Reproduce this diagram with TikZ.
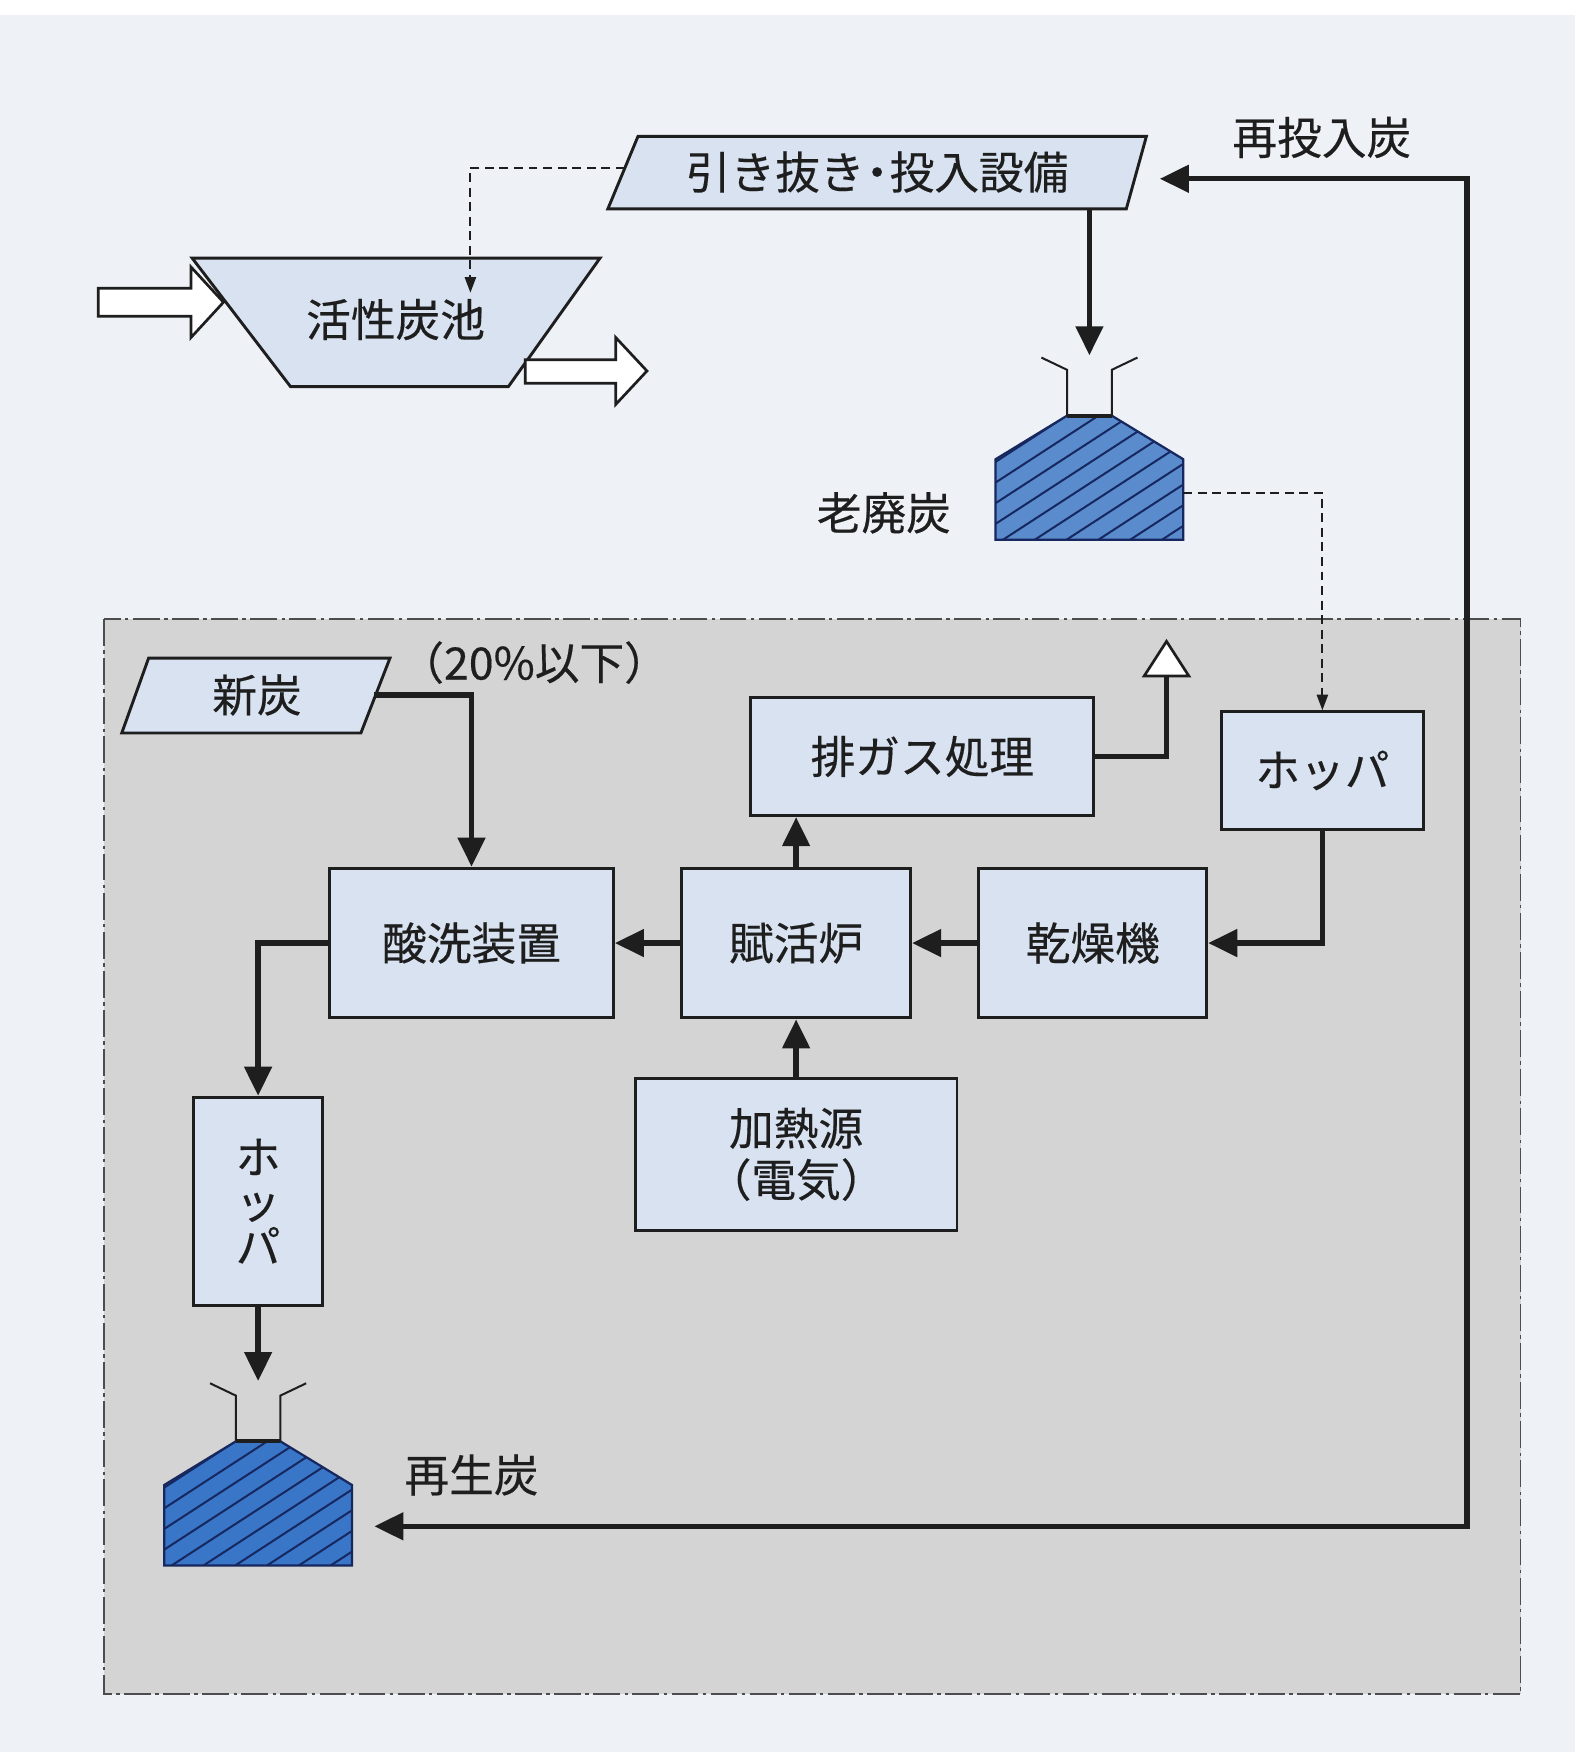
\documentclass[tikz,border=0pt]{standalone}
\usepackage{fontspec}
\setmainfont{Noto Sans CJK JP}[FakeBold=0.35]
\usetikzlibrary{arrows.meta}
\definecolor{bgc}{RGB}{238,241,245}
\definecolor{panelc}{RGB}{212,212,212}
\definecolor{boxc}{RGB}{216,226,240}
\definecolor{pilec}{RGB}{90,140,205}
\definecolor{hatchc}{RGB}{22,40,95}
\definecolor{ink}{RGB}{30,30,30}
\tikzset{
  lbl/.style={font=\fontsize{20pt}{24pt}\selectfont, text=ink, inner sep=0pt},
  box/.style={draw=ink, fill=boxc, line width=1.3pt, inner sep=0pt, align=center, text=ink, font=\fontsize{20pt}{24pt}\selectfont},
  shapebox/.style={draw=ink, fill=boxc, line width=1.3pt, line join=miter},
  flow/.style={draw=ink, line width=2.4pt, line join=miter},
  dflow/.style={draw=ink, line width=0.9pt, dash pattern=on 4pt off 2.5pt, -{Triangle[length=7pt,width=5pt]}},
  hollow/.style={draw=ink, fill=white, line width=1.2pt, line join=miter},
  panelborder/.style={draw=black!70, line width=0.6pt, dash pattern=on 12pt off 2pt on 1.5pt off 2pt},
  >={Triangle[length=13pt,width=12pt]},
  pile/.pic={
    \fill[pilec] (-84,0) -- (-84,-72) -- (-20,-111) -- (20,-111) -- (84,-72) -- (84,0) -- cycle;
    \begin{scope}
      \clip (-84,0) -- (-84,-72) -- (-20,-111) -- (20,-111) -- (84,-72) -- (84,0) -- cycle;
      \foreach \k in {1,...,16} \draw[hatchc, line width=0.9pt] (-95,-118+\k*18.5) -- ++(300,-195);
    \end{scope}
    \draw[hatchc, line width=1pt, line join=miter] (-84,0) -- (-84,-72) -- (-20,-111) -- (20,-111) -- (84,-72) -- (84,0) -- cycle;
    \draw[ink, line width=0.9pt] (-43,-163) -- (-20,-152) -- (-20,-111);
    \draw[ink, line width=0.9pt] (43,-163) -- (20,-152) -- (20,-111);
    \draw[ink, line width=1.8pt] (-20,-111) -- (20,-111);
    \coordinate (-in) at (0,-165);
    \coordinate (-out) at (84,-42);
    \coordinate (-ret) at (104,-35);
  }
}
\begin{document}
\begin{tikzpicture}[x=0.5pt,y=-0.5pt]
\useasboundingbox (0,0) rectangle (1410,1568);
\fill[bgc] (0,0) rectangle (1410,1568);
\fill[white] (0,0) rectangle (1410,13);

% gray panel
\fill[panelc] (93,554) rectangle (1361,1516);
\draw[panelborder] (93,554) rectangle (1361,1516);

% top: withdrawal / feed equipment
\draw[shapebox] (571,122) -- (1026,122) -- (1008,187) -- (544,187) -- cycle;
\node[lbl] (hk) at (785,154) {引き抜き\kern-0.22em・\kern-0.22em投入設備};
\coordinate (hk-l) at (559,150);
\coordinate (hk-b) at (975,187);
\coordinate (hk-r) at (1038,160);
\node[lbl] (reinput) at (1183,123) {再投入炭};

% activated carbon pond
\draw[shapebox] (172,231) -- (537,231) -- (455,346) -- (260,346) -- cycle;
\node[lbl] (pond) at (354,286) {活性炭池};
\coordinate (pond-in) at (421,262);
\draw[hollow] (88,258) -- (171,258) -- (171,239) -- (200,270.5) -- (171,302) -- (171,283) -- (88,283) -- cycle;
\draw[hollow] (470,322) -- (551,322) -- (551,302) -- (579,332) -- (551,362) -- (551,343) -- (470,343) -- cycle;

% waste carbon
\pic (old) at (975,483) {pile};
\node[lbl] (oldlbl) at (791,459) {老廃炭};

% new carbon
\draw[shapebox] (133,589) -- (349,589) -- (323,656) -- (109,656) -- cycle;
\node[lbl] (shin) at (230,622) {新炭};
\coordinate (shin-r) at (335,622);
\node[lbl] (pct) at (478,593) {（20\%以下）};

% process boxes
\node[box, minimum width=127pt, minimum height=67pt] (acid) at (422,844) {酸洗装置};
\node[box, minimum width=102.5pt, minimum height=67pt] (furn) at (712.5,844) {賦活炉};
\node[box, minimum width=102pt, minimum height=67pt] (dry) at (978,844) {乾燥機};
\node[box, minimum width=153.5pt, minimum height=53pt] (gas) at (825.5,677) {排ガス処理};
\node[box, minimum width=90.5pt, minimum height=52.5pt] (hopR) at (1183.5,689.5) {ホッパ};
\node[box, minimum width=144pt, minimum height=68pt, font=\fontsize{20pt}{23pt}\selectfont] (heat) at (712.5,1033) {加熱源\\（電気）};
\node[box, minimum width=57.5pt, minimum height=93pt, font=\fontsize{20pt}{20pt}\selectfont] (hopL) at (231,1075) {ホ\\ッ\\パ};

% regenerated carbon
\definecolor{pilec}{RGB}{58,118,200}
\pic (new) at (231,1401) {pile};
\node[lbl] (newlbl) at (422,1320) {再生炭};

% exhaust outlet
\coordinate (exh) at (1044,605);
\coordinate (retc) at (1313,700);

% connectors
\draw[dflow] (hk-l) -| (pond-in);
\draw[flow,->] (hk-b) -- (old-in);
\draw[dflow] (old-out) -| (hopR.north);
\draw[flow,->] (shin-r) -| (acid.north);
\draw[flow,->] (hopR.south) |- (dry.east);
\draw[flow,->] (dry.west) -- (furn.east);
\draw[flow,->] (furn.west) -- (acid.east);
\draw[flow,->] (furn.north) -- (furn.north |- gas.south);
\draw[flow,->] (heat.north) -- (furn.south);
\draw[flow] (gas.east) -| (exh);
\draw[hollow] (1024,605) -- (1044,574) -- (1064,605) -- cycle;
\draw[flow,->] (acid.west) -| (hopL.north);
\draw[flow,->] (hopL.south) -- (new-in);
\draw[flow,<->] (hk-r) -| (retc) |- (new-ret);
\end{tikzpicture}
\end{document}
